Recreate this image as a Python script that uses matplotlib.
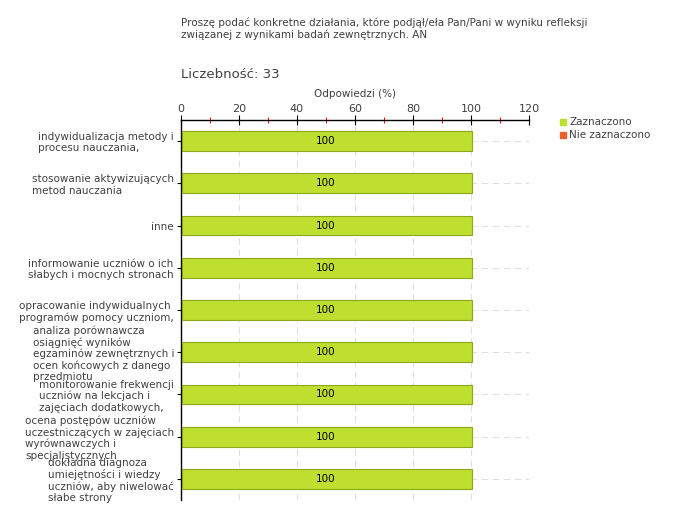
import matplotlib.pyplot as plt
from matplotlib.ticker import MultipleLocator

# data
labels = [
    "indywidualizacja metody i\nprocesu nauczania,",
    "stosowanie aktywizujących\nmetod nauczania",
    "inne",
    "informowanie uczniów o ich\nsłabych i mocnych stronach",
    "opracowanie indywidualnych\nprogramów pomocy uczniom,",
    "analiza porównawcza\nosiągnięć wyników\negzaminów zewnętrznych i\nocen końcowych z danego\nprzedmiotu",
    "monitorowanie frekwencji\nuczniów na lekcjach i\nzajęciach dodatkowych,",
    "ocena postępów uczniów\nuczestniczących w zajęciach\nwyrównawczych i\nspecjalistycznych",
    "dokładna diagnoza\numiejętności i wiedzy\nuczniów, aby niwelować\nsłabe strony",
]
zaznaczono = [100, 100, 100, 100, 100, 100, 100, 100, 100]
nie_zaznaczono = [0, 0, 0, 0, 0, 0, 0, 0, 0]
series_names = ["Zaznaczono", "Nie zaznaczono"]
title = "Proszę podać konkretne działania, które podjął/eła Pan/Pani w wyniku refleksji\nzwiązanej z wynikami badań zewnętrznych. AN"
count_text = "Liczebność: 33"

txt = "#404040"
green = "#bedf30"
green_edge = "#8aa817"
orange = "#e8602c"

fig = plt.figure(figsize=(6.8, 5.2), dpi=100)
ax = fig.add_axes([181/680, 1-500/520, 348/680, 380/520])

pos = list(range(len(labels)))
ax.barh(pos, zaznaczono, height=0.47, left=0.4, color=green, edgecolor=green_edge, lw=0.8, zorder=3)
for p, v in zip(pos, zaznaczono):
    ax.text(v/2, p, str(v), ha='center', va='center', fontsize=7.5, color='black', zorder=4)

ax.set_xlim(0, 120)
ax.set_ylim(len(labels)-0.5, -0.5)
ax.xaxis.tick_top()
ax.xaxis.set_label_position('top')
ax.xaxis.set_major_locator(MultipleLocator(20))
ax.xaxis.set_minor_locator(MultipleLocator(10))
ax.tick_params(axis='x', which='major', direction='inout', length=7, width=0.8,
               labelsize=8, labelcolor=txt, pad=1)
ax.tick_params(axis='x', which='minor', direction='inout', length=5, width=0.8, color='red')
ax.set_xlabel("Odpowiedzi (%)", fontsize=7.5, color=txt, labelpad=5)

ax.set_yticks(pos)
ax.set_yticklabels(labels, fontsize=7.5, color=txt, ha='right', multialignment='left', linespacing=1.15)
ax.tick_params(axis='y', direction='out', length=3, width=0.8, pad=2)

ax.grid(True, axis='both', ls=(0, (6, 4)), color='#e0e0e0', lw=0.8, zorder=0)
for s in ['right', 'bottom']:
    ax.spines[s].set_visible(False)
for s in ['top', 'left']:
    ax.spines[s].set_linewidth(1.0)
    ax.spines[s].set_color('black')

fig.text(181/680, 1-18/520, title, fontsize=7.5, color=txt, va='top', ha='left', linespacing=1.1)
fig.text(181/680, 1-75/520, count_text, fontsize=9.5, color=txt, va='center', ha='left')

# legend
for i, (name, col) in enumerate(zip(series_names, [green, orange])):
    y = 1 - (122 + i*13)/520
    fig.patches.append(plt.Rectangle((560/680, y-3/520), 6/680, 6/520, color=col,
                                     transform=fig.transFigure, figure=fig))
    fig.text(569/680, y, name, fontsize=7.5, color=txt, va='center', ha='left')

fig.savefig("out.png", dpi=100)
